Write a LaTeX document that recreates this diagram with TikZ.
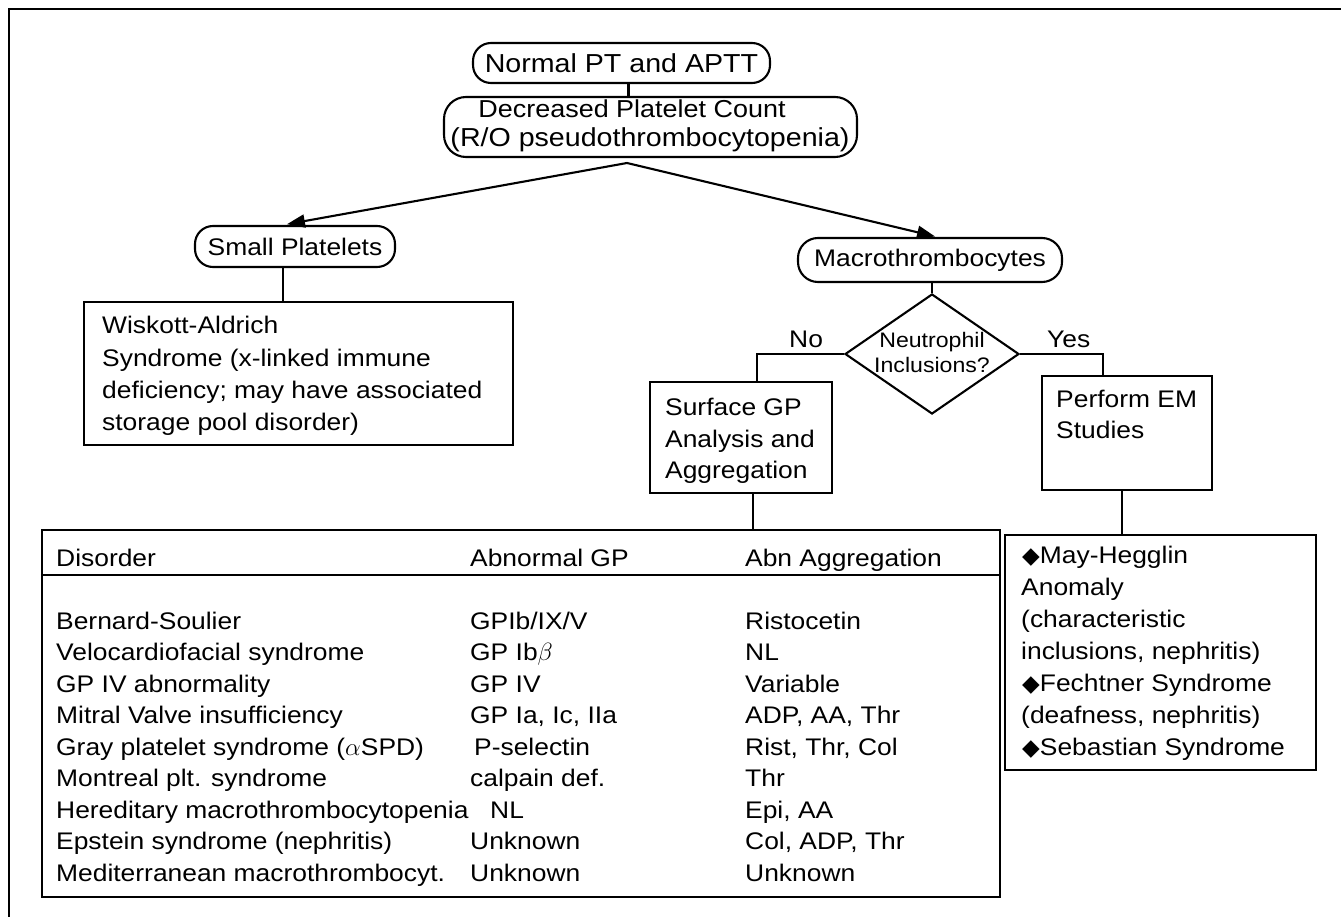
\documentclass[tikz,border=0pt]{standalone}
\usepackage{fontspec}
\setmainfont{Liberation Sans}[FakeStretch=1.1]
\newfontfamily\dejavu{DejaVu Sans}
\usetikzlibrary{shapes.geometric,arrows.meta}
\newcommand\tabrow[6]{%
  \node[txt] (a#1) at (56,#2) {#3};
  \node[txt] (b#1) at (#4,#2) {#5};
  \node[txt] (c#1) at (745,#2) {#6};}
\newcommand\dmd{{\dejavu\fontsize{23}{23}\selectfont ◆}}
\newcommand\fs[1]{\fontsize{#1}{#1}\selectfont}
\begin{document}
\begin{tikzpicture}[x=1pt,y=-1pt, font=\fs{24},
  ln/.style={line width=2.1pt},
  rbox/.style={draw,line width=2.1pt,rounded corners=18pt,inner sep=0pt},
  sbox/.style={draw,line width=2.1pt,inner sep=0pt},
  txt/.style={anchor=base west,inner sep=0pt},
  ctxt/.style={anchor=base,inner sep=0pt},
  arr/.style={line width=2.1pt,-{Triangle[length=18pt,width=13pt]}}]
\useasboundingbox (0,0) rectangle (1341,917);
\fill[white] (0,0) rectangle (1341,917);
\draw[line width=2.2pt] (1341,9) -- (9,9) -- (9,917);

% top
\node[rbox,minimum width=297pt,minimum height=40pt,font=\fs{26}] (n1) at (621.5,63) {Normal PT and APTT};
\node[rbox,rounded corners=22pt,minimum width=413pt,minimum height=60pt] (n2) at (650.5,127) {};
\node[ctxt,font=\fs{24.5}] (n2a) at (632,118) {Decreased Platelet Count};
\node[ctxt,font=\fs{26}] (n2b) at (650,147) {(R/O pseudothrombocytopenia)};
\coordinate (apex) at (627,163);

% second level
\node[rbox,minimum width=200pt,minimum height=41pt] (sp) at (295,246.5) {Small Platelets};
\node[rbox,rounded corners=20pt,minimum width=264pt,minimum height=44pt] (mt) at (930,260) {Macrothrombocytes};

% Wiskott
\node[sbox,minimum width=429pt,minimum height=143pt] (wa) at (298.5,373.5) {};
\node[txt] (w1) at (102,334) {Wiskott-Aldrich};
\node[txt] (w2) at (102,366) {Syndrome (x-linked immune};
\node[txt] (w3) at (102,398) {deficiency; may have associated};
\node[txt] (w4) at (102,430) {storage pool disorder)};

% decision
\node[draw,line width=2.1pt,diamond,minimum width=174pt,minimum height=120pt,inner sep=0pt] (dia) at (932,354) {};
\node[align=center,font=\fontsize{21}{25}\selectfont,inner sep=0pt] (dq) at (932,352) {Neutrophil\\Inclusions?};
\node[txt] (no) at (789,347) {No};
\node[txt] (yes) at (1047,347) {Yes};

% surface GP
\node[sbox,minimum width=182pt,minimum height=111pt] (sg) at (741,437.5) {};
\node[txt] (s1) at (665,415) {Surface GP};
\node[txt] (s2) at (665,447) {Analysis and};
\node[txt] (s3) at (665,478) {Aggregation};

% perform EM
\node[sbox,minimum width=170pt,minimum height=114pt] (pe) at (1127,433) {};
\node[txt] (p1) at (1056,407) {Perform EM};
\node[txt] (p2) at (1056,438) {Studies};

% table
\node[sbox,minimum width=958pt,minimum height=367pt] (tb) at (521,713.5) {};
\node[txt] (h1) at (56,566) {Disorder};
\node[txt] (h2) at (470,566) {Abnormal GP};
\node[txt] (h3) at (745,566) {Abn Aggregation};
\draw[ln] (tb.west |- 0,575) -- (tb.east |- 0,575);
\tabrow{1}{629}{Bernard-Soulier}{470}{GPIb/IX/V}{Ristocetin}
\tabrow{2}{660.5}{Velocardiofacial syndrome}{470}{GP Ib$\beta$}{NL}
\tabrow{3}{692}{GP IV abnormality}{470}{GP IV}{Variable}
\tabrow{4}{723.5}{Mitral Valve insufficiency}{470}{GP Ia, Ic, IIa}{ADP, AA, Thr}
\tabrow{5}{755}{Gray platelet syndrome ($\alpha$SPD)}{474}{P-selectin}{Rist, Thr, Col}
\tabrow{6}{786.5}{Montreal plt. syndrome}{470}{calpain def.}{Thr}
\tabrow{7}{818}{Hereditary macrothrombocytopenia}{490}{NL}{Epi, AA}
\tabrow{8}{849.5}{Epstein syndrome (nephritis)}{470}{Unknown}{Col, ADP, Thr}
\tabrow{9}{881}{Mediterranean macrothrombocyt.}{470}{Unknown}{Unknown}

% right box
\node[sbox,minimum width=311pt,minimum height=235pt] (rb) at (1160.5,652.5) {};
\node[txt] (m1) at (1022,563) {\dmd May-Hegglin};
\node[txt] (m2) at (1021,595) {Anomaly};
\node[txt] (m3) at (1021,627) {(characteristic};
\node[txt] (m4) at (1021,659) {inclusions, nephritis)};
\node[txt] (m5) at (1022,691) {\dmd Fechtner Syndrome};
\node[txt] (m6) at (1021,723) {(deafness, nephritis)};
\node[txt] (m7) at (1022,755) {\dmd Sebastian Syndrome};

% connectors
\draw[ln] ([xshift=7pt]n1.south) -- ([xshift=7pt]n1.south |- n2.north);
\draw[arr,shorten >=4pt] (apex) -- ([xshift=-12pt]sp.north);
\draw[arr,shorten >=2pt] (apex) -- ([xshift=7pt]mt.north);
\draw[ln] ([xshift=-12pt]sp.south) -- ([xshift=-12pt]sp.south |- wa.north);
\draw[ln] (mt.south -| dia.north) -- (dia.north);
\draw[ln] (dia.west) -| ([xshift=16pt]sg.north);
\draw[ln] (dia.east) -| ([xshift=-24pt]pe.north);
\draw[ln] ([xshift=12pt]sg.south) -- ([xshift=12pt]sg.south |- tb.north);
\draw[ln] ([xshift=-5pt]pe.south) -- ([xshift=-5pt]pe.south |- rb.north);
\end{tikzpicture}
\end{document}
